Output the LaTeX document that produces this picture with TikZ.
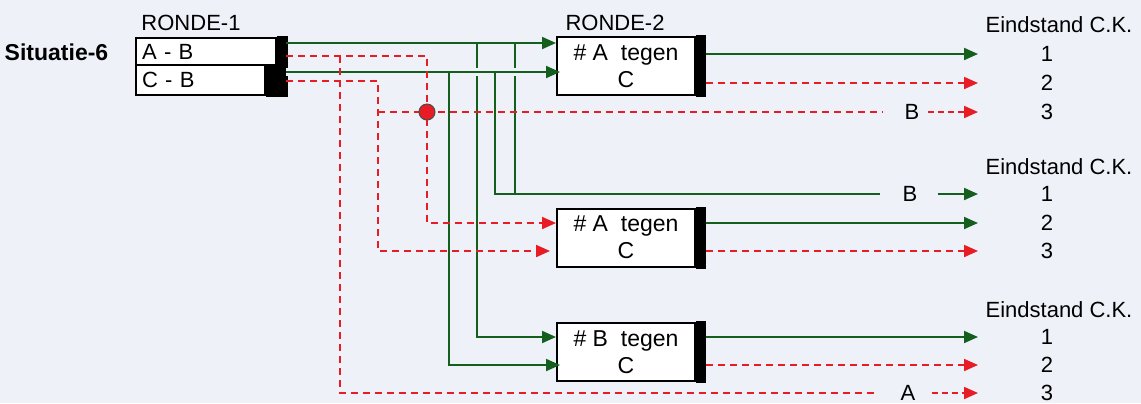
\documentclass[tikz,border=0pt]{standalone}
\usepackage{fontspec}
\setmainfont{Liberation Sans}
\usetikzlibrary{arrows.meta}
\definecolor{paper}{RGB}{238,242,248}
\definecolor{wingreen}{RGB}{20,95,30}
\definecolor{losered}{RGB}{232,28,36}

\begin{document}
\begin{tikzpicture}[x=0.5pt, y=-0.5pt,
    font=\fontsize{11}{13.5}\selectfont,
    win/.style={draw=wingreen, line width=1pt},
    lose/.style={draw=losered, line width=1pt, dash pattern=on 3.5pt off 2.5pt},
    arrowed/.style={-{Triangle[length=7pt, width=6pt]}},
    rowbox/.style={draw, line width=1pt, fill=white, anchor=north west,
      inner xsep=3pt, inner ysep=0pt, align=left},
    duel/.style={draw, line width=1pt, fill=white, minimum width=69pt,
      minimum height=29pt, align=center, font=\fontsize{11.5}{13.5}\selectfont},
    tag/.style={inner xsep=4pt},
    reddot/.style={circle, fill=losered, draw=black!70, line width=0.5pt,
      minimum size=8pt, inner sep=0pt}]
  \useasboundingbox[fill=paper] (0,0) rectangle (1141,403);

  % titles
  \node[font=\fontsize{11.5}{13.5}\selectfont\bfseries] (sit) at (56.5,52) {Situatie-6};
  \node (ronde1) at (191,23) {RONDE-1};
  \node (ronde2) at (615,23) {RONDE-2};

  % ronde 1
  \node[rowbox, text width=64pt, minimum height=13.5pt] (r1ab) at (135,37) {A - B};
  \node[rowbox, text width=58.5pt, minimum height=15pt] (r1cb) at (135,64) {C - B};
  \fill ([yshift=0.5pt]r1ab.north east) rectangle ([xshift=5.5pt]r1ab.south east);
  \fill (r1cb.north east) rectangle ([xshift=11pt, yshift=-0.5pt]r1cb.south east);

  % ronde 2
  \node[duel] (r2a) at (626,66) {\#~A~~tegen\\C};
  \node[duel] (r2b) at (626,237.5) {\#~A~~tegen\\C};
  \node[duel] (r2c) at (626,352) {\#~B~~tegen\\C};
  \foreach \b in {r2a,r2b,r2c} {
    \fill ([yshift=0.5pt]\b.north east) rectangle ([xshift=5pt, yshift=-0.5pt]\b.south east);
    \coordinate (\b-out) at ([xshift=5pt]\b.east);
  }

  % eindstand
  \foreach \g/\y in {1/25,2/167,3/310}
    \node (eind\g) at (1059,\y) {Eindstand C.K.};
  \foreach \g/\r/\y in {1/1/54,1/2/83,1/3/112,2/1/194,2/2/223,2/3/251,3/1/337,3/2/365,3/3/393} {
    \node (n\g\r) at (1047,\y) {\r};
    \coordinate (t\g\r) at (978,\y);
  }
  \node[tag] (lb1) at (912,112) {B};
  \node[tag] (lb2) at (910,194) {B};
  \node[tag] (la) at (908,393) {A};

  % ports and branch points
  \coordinate (abw) at (286,43);
  \coordinate (abl) at (286,56);
  \coordinate (cbw) at (286,72);
  \coordinate (cbl) at (286,81);
  \coordinate (a1) at (477,43);
  \coordinate (a2) at (515,43);
  \coordinate (c1) at (449,72);
  \coordinate (c2) at (495,72);
  \coordinate (s) at (340,56);
  \coordinate (k) at (427,112);
  \coordinate (m) at (378,112);

  % winners
  \draw[win, arrowed] (a1) |- (r2c.west |- t31);
  \draw[win] (a2) -- (a2 |- lb2);
  \draw[win, arrowed] (abw) -- (r2a.west |- abw);
  \draw[win, arrowed, preaction={draw=paper, line width=4pt, -, shorten >=20pt}] (cbw) -- ([xshift=2pt]r2a.west |- cbw);
  \draw[win, arrowed] (c1) |- ([xshift=2pt]r2c.west |- t32);
  \draw[win, shorten >=7pt] (c2) |- (lb2.west);
  \draw[win, arrowed, shorten <=6pt] (lb2.east) -- (t21);
  \draw[win, arrowed] (r2a-out |- t11) -- (t11);
  \draw[win, arrowed] (r2b-out |- t22) -- (t22);
  \draw[win, arrowed] (r2c-out |- t31) -- (t31);

  % losers
  \draw[lose, arrowed] (abl) -| (k) |- (r2b.west |- t22);
  \draw[lose, arrowed] (cbl) -| (m) |- ([xshift=-3pt]r2b.west |- t23);
  \draw[lose, shorten >=7pt] (m) -- (lb1.west);
  \draw[lose, arrowed, dash pattern=on 3pt off 2pt] (lb1.east) -- (t13);
  \draw[lose, shorten >=7pt] (s) |- (la.west);
  \draw[lose, arrowed, dash pattern=on 3pt off 2pt, shorten <=4pt] (la.east) -- (t33);
  \draw[lose, arrowed] (r2a-out |- t12) -- (t12);
  \draw[lose, arrowed] (r2b-out |- t23) -- (t23);
  \draw[lose, arrowed] (r2c-out |- t32) -- (t32);
  \node[reddot] (dot) at (k) {};
\end{tikzpicture}
\end{document}
